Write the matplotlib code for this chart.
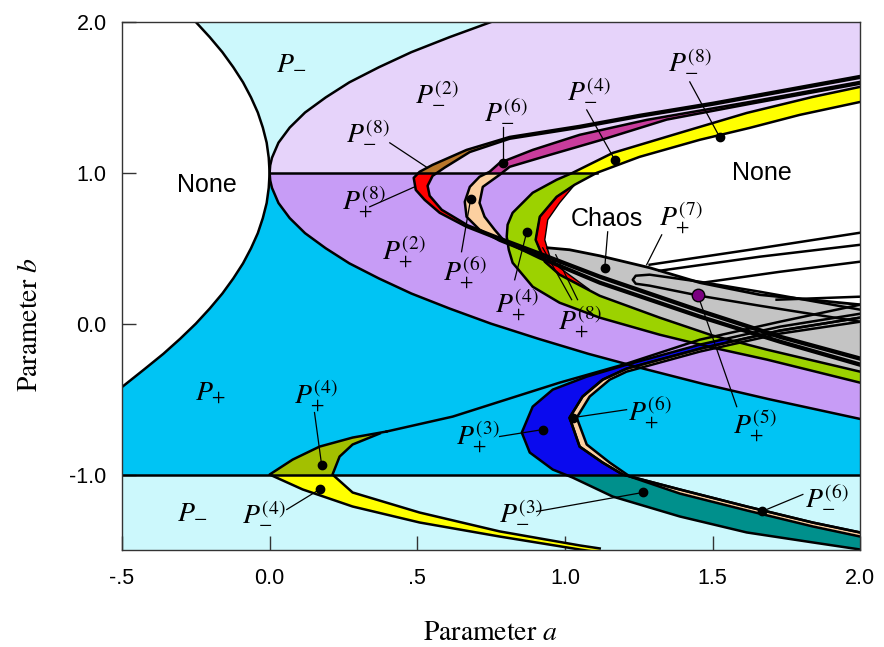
import matplotlib
matplotlib.use("Agg")
import matplotlib.pyplot as plt
from matplotlib.patches import Rectangle

plt.rcParams['mathtext.fontset'] = 'stix'
plt.rcParams['font.family'] = ['Liberation Sans', 'DejaVu Sans']

# ---- region boundaries (a = x, b = y) ----
# left "None" region boundary
none_b = [2.0, 1.9, 1.8, 1.7, 1.6, 1.5, 1.4, 1.3, 1.2, 1.1, 1.0, 0.9, 0.8, 0.7, 0.6, 0.5, 0.4, 0.3,
          0.2, 0.1, 0.0, -0.1, -0.2, -0.3, -0.42]
none_a = [-0.25, -0.203, -0.16, -0.123, -0.09, -0.063, -0.04, -0.023, -0.01, -0.003, 0.0, -0.003,
          -0.01, -0.023, -0.04, -0.063, -0.09, -0.123, -0.16, -0.203, -0.25, -0.303, -0.36, -0.423, -0.50]

# period-2 boundary (P -> P(2))
p2_b = [2.0, 1.9, 1.8, 1.7, 1.6, 1.5, 1.4, 1.3, 1.2, 1.1, 1.05, 1.0, 0.95, 0.9, 0.8, 0.7, 0.6, 0.5,
        0.4, 0.3, 0.2, 0.1, 0.0, -0.1, -0.2, -0.3, -0.4, -0.5, -0.64]
p2_a = [0.75, 0.61, 0.48, 0.37, 0.27, 0.19, 0.12, 0.068, 0.03, 0.008, 0.002, 0.0, 0.002, 0.008, 0.03,
        0.068, 0.12, 0.19, 0.27, 0.37, 0.48, 0.61, 0.75, 0.91, 1.08, 1.27, 1.47, 1.69, 2.02]

# small period-8 band (brown above b=1, red below)
b8_out_a = [2.0, 1.501, 1.253, 1.050, 0.813, 0.667, 0.552, 0.508, 0.488, 0.495, 0.525, 0.576, 0.667, 0.779, 0.915, 1.118, 1.457, 1.728, 2.0]
b8_out_b = [1.642, 1.464, 1.384, 1.311, 1.238, 1.152, 1.053, 1.007, 0.967, 0.887, 0.821, 0.735, 0.642, 0.556, 0.457, 0.305, 0.079, -0.093, -0.238]
b8_in_a = [2.0, 1.501, 1.253, 1.050, 0.813, 0.678, 0.593, 0.552, 0.535, 0.542, 0.583, 0.671, 0.779, 0.915, 1.118, 1.457, 1.728, 2.0]
b8_in_b = [1.630, 1.452, 1.372, 1.299, 1.226, 1.138, 1.035, 0.980, 0.914, 0.848, 0.755, 0.652, 0.570, 0.470, 0.318, 0.092, -0.080, -0.225]

# period-6 band (magenta above b=1, tan below)
b6_out_a = [2.0, 1.626, 1.277, 1.050, 0.891, 0.779, 0.745, 0.711, 0.678, 0.661, 0.667, 0.711, 0.779, 0.915, 1.118, 1.457, 1.728, 2.0]
b6_out_b = [1.603, 1.470, 1.351, 1.252, 1.152, 1.066, 1.007, 0.974, 0.907, 0.808, 0.709, 0.623, 0.550, 0.444, 0.278, 0.053, -0.113, -0.265]
b6_in_a = [2.0, 1.626, 1.345, 1.118, 0.949, 0.813, 0.779, 0.722, 0.711, 0.728, 0.762, 0.796, 0.915, 1.118, 1.457, 1.728, 2.0]
b6_in_b = [1.591, 1.457, 1.353, 1.215, 1.119, 1.040, 0.987, 0.907, 0.801, 0.709, 0.623, 0.545, 0.433, 0.266, 0.041, -0.125, -0.278]

# period-4 cascade band (yellow above b=1, green below)
b4_out_a = [2.0, 1.839, 1.616, 1.389, 1.162, 1.026, 0.972, 0.891, 0.823, 0.806, 0.803, 0.810, 0.823, 0.891, 0.982, 1.118, 1.321, 1.501, 1.684, 2.0]
b4_out_b = [1.570, 1.503, 1.397, 1.265, 1.132, 1.0, 0.954, 0.868, 0.735, 0.656, 0.576, 0.490, 0.404, 0.245, 0.139, 0.040, -0.073, -0.159, -0.238, -0.391]
b4_in_a = [2.0, 1.795, 1.626, 1.457, 1.253, 1.108, 1.033, 0.972, 0.915, 0.901, 0.932, 0.982, 1.118, 1.321, 1.501, 1.684, 2.0]
b4_in_b = [1.470, 1.384, 1.298, 1.219, 1.106, 1.0, 0.921, 0.841, 0.709, 0.556, 0.411, 0.325, 0.185, 0.040, -0.079, -0.172, -0.318]

# thin period-8 strip inside the cascade
r8_a = [1.033, 0.972, 0.915, 0.901, 0.932, 0.982, 1.084, 0.982, 0.949, 0.932, 0.942, 0.982, 1.033]
r8_b = [0.921, 0.841, 0.709, 0.556, 0.411, 0.325, 0.225, 0.371, 0.444, 0.556, 0.689, 0.801, 0.921]

# chaotic region
chaos_a = [0.942, 1.016, 1.118, 1.287, 1.457, 1.660, 2.0, 2.0, 1.684, 1.501, 1.321, 1.118, 0.982, 0.942]
chaos_b = [0.503, 0.490, 0.450, 0.371, 0.272, 0.192, 0.126, -0.318, -0.172, -0.079, 0.040, 0.185, 0.325, 0.411]

# period-7 window and window lines in the chaotic zone
p7_a = [2.0, 1.660, 1.457, 1.287, 1.240, 1.230, 1.240, 1.287, 1.457, 1.660, 2.0]
p7_b = [0.093, 0.212, 0.278, 0.325, 0.318, 0.291, 0.265, 0.252, 0.185, 0.119, 0.013]
win_lines = [
    ([1.287, 1.626, 2.0], [0.391, 0.490, 0.603]),
    ([1.321, 1.660, 2.0], [0.351, 0.444, 0.523]),
    ([1.467, 1.728, 2.0], [0.272, 0.344, 0.411]),
    ([1.717, 2.0], [0.159, 0.179]),
]

# period-3 band (blue above b=-1, teal below) and inner period-6 strip
b3_out_a = [2.0, 1.728, 1.457, 1.209, 1.074, 0.959, 0.891, 0.854, 0.881, 0.959, 1.026, 1.162, 1.389, 1.616, 1.839, 2.0]
b3_out_b = [0.066, -0.020, -0.139, -0.272, -0.351, -0.437, -0.550, -0.722, -0.854, -0.967, -1.020, -1.146, -1.278, -1.384, -1.450, -1.497]
b3_in_a = [2.0, 1.728, 1.457, 1.209, 1.128, 1.060, 1.016, 1.050, 1.128, 1.196, 1.389, 1.616, 1.839, 2.0]
b3_in_b = [0.040, -0.046, -0.166, -0.298, -0.371, -0.483, -0.623, -0.815, -0.921, -1.0, -1.099, -1.212, -1.318, -1.384]
b6l_a = [2.0, 1.728, 1.457, 1.209, 1.152, 1.084, 1.040, 1.074, 1.152, 1.220, 1.389, 1.616, 1.839, 2.0]
b6l_b = [0.013, -0.066, -0.185, -0.318, -0.371, -0.483, -0.623, -0.801, -0.921, -1.013, -1.126, -1.238, -1.344, -1.411]

# period-4 band near (0,-1) (olive above b=-1, yellow below)
q4_out_a = [0.396, 0.281, 0.169, 0.078, 0.0, 0.112, 0.281, 0.508, 0.779, 1.050, 1.118]
q4_out_b = [-0.715, -0.755, -0.815, -0.901, -1.0, -1.099, -1.212, -1.318, -1.411, -1.497, -1.517]
q4_in_a = [0.373, 0.281, 0.237, 0.213, 0.281, 0.508, 0.779, 1.050, 1.118]
q4_in_b = [-0.728, -0.801, -0.881, -1.0, -1.119, -1.252, -1.377, -1.470, -1.490]
q4_line_a = [0.396, 0.620, 0.779, 0.982, 1.209, 1.457, 1.728, 2.0]
q4_line_b = [-0.715, -0.616, -0.517, -0.391, -0.265, -0.106, 0.013, 0.126]

# labels: text, centre
labels = [
    (r'$P_{-}$', 0.075, 1.735), (r'$P_{-}^{(2)}$', 0.566, 1.530),
    (r'$P_{-}^{(8)}$', 0.332, 1.278), (r'$P_{+}^{(8)}$', 0.318, 0.808),
    (r'$P_{+}^{(2)}$', 0.454, 0.477), (r'$P_{+}^{(6)}$', 0.661, 0.338),
    (r'$P_{-}^{(6)}$', 0.799, 1.417), (r'$P_{-}^{(4)}$', 1.081, 1.556),
    (r'$P_{-}^{(8)}$', 1.423, 1.748), (r'$P_{+}^{(7)}$', 1.392, 0.702),
    (r'$P_{+}^{(4)}$', 0.837, 0.126), (r'$P_{+}^{(8)}$', 1.050, 0.013),
    (r'$P_{+}^{(5)}$', 1.643, -0.675), (r'$P_{+}^{(6)}$', 1.287, -0.589),
    (r'$P_{+}^{(3)}$', 0.705, -0.748), (r'$P_{-}^{(3)}$', 0.850, -1.245),
    (r'$P_{-}^{(6)}$', 1.887, -1.146), (r'$P_{+}$', -0.200, -0.457),
    (r'$P_{+}^{(4)}$', 0.156, -0.477), (r'$P_{-}$', -0.261, -1.245),
    (r'$P_{-}^{(4)}$', -0.020, -1.252),
]
words = [('None', -0.213, 0.921), ('None', 1.667, 1.0), ('Chaos', 1.142, 0.695)]

# leader lines (from label to orbit)
lead_x0 = [0.407, 0.339, 0.650, 0.789, 1.074, 1.423, 1.145, 1.328, 0.830, 1.023, 1.043, 1.582, 1.209, 0.779, 0.904, 1.806, 0.152, 0.058]
lead_y0 = [1.199, 0.775, 0.477, 1.305, 1.417, 1.603, 0.609, 0.589, 0.291, 0.159, 0.159, -0.550, -0.570, -0.748, -1.245, -1.132, -0.589, -1.232]
lead_x1 = [0.535, 0.491, 0.681, 0.789, 1.169, 1.524, 1.135, 1.277, 0.871, 0.925, 0.969, 1.450, 1.026, 0.925, 1.264, 1.667, 0.176, 0.169]
lead_y1 = [1.033, 0.907, 0.828, 1.066, 1.086, 1.238, 0.371, 0.391, 0.609, 0.503, 0.457, 0.192, -0.623, -0.702, -1.119, -1.245, -0.934, -1.099]
dot_x = [0.681, 0.789, 1.169, 1.524, 1.135, 0.871, 1.026, 0.925, 1.264, 1.667, 0.176, 0.169]
dot_y = [0.828, 1.066, 1.086, 1.238, 0.371, 0.609, -0.623, -0.702, -1.119, -1.245, -0.934, -1.099]

LIGHT_CYAN = '#ccf8fc'
SKY = '#00c4f4'
LAVENDER = '#e6d3fa'
PURPLE = '#c79cf6'

fig = plt.figure(figsize=(8.84, 6.47), dpi=100)
ax = fig.add_axes([0.138, 0.150, 0.835, 0.816])
ax.set_xlim(-0.5, 2.0)
ax.set_ylim(-1.5, 2.0)

ax.axhspan(1, 2, color=LIGHT_CYAN, lw=0, zorder=0)
ax.axhspan(-1, 1, color=SKY, lw=0, zorder=0)
ax.axhspan(-1.5, -1, color=LIGHT_CYAN, lw=0, zorder=0)

ax.fill(none_a + [-0.5], none_b + [2.0], color='white', lw=0, zorder=1)
ax.plot(none_a, none_b, color='k', lw=1.8, zorder=5)

i1 = p2_b.index(1.0)
ax.fill(p2_a[:i1 + 1] + [2.1, 2.1], p2_b[:i1 + 1] + [1.0, 2.0], color=LAVENDER, lw=0, zorder=1)
ax.fill(p2_a[i1:] + [2.1], p2_b[i1:] + [1.0], color=PURPLE, lw=0, zorder=1)
ax.plot(p2_a, p2_b, color='k', lw=1.8, zorder=5)


def band(oa, ob, ia, ib, col_hi, col_lo, split, z=2, lw=1.8):
    xs = list(oa) + list(ia)[::-1]
    ys = list(ob) + list(ib)[::-1]
    for col, y0, y1 in [(col_hi, split, 2.0), (col_lo, -1.5, split)]:
        p, = ax.fill(xs, ys, color=col, lw=0, zorder=z)
        p.set_clip_path(Rectangle((-0.5, y0), 2.5, y1 - y0, transform=ax.transData))
    ax.plot(oa, ob, color='k', lw=lw, zorder=5)
    ax.plot(ia, ib, color='k', lw=lw, zorder=5)


band(b8_out_a, b8_out_b, b8_in_a, b8_in_b, '#b8762a', '#ff0000', 1.0)
band(b6_out_a, b6_out_b, b6_in_a, b6_in_b, '#c83c9c', '#fcd0a0', 1.0)
band(b4_out_a, b4_out_b, b4_in_a, b4_in_b, '#ffff00', '#9cd200', 1.0)

# empty interior of the cascade
ax.fill(b4_in_a, b4_in_b, color='white', lw=0, zorder=3)
ax.fill(chaos_a, chaos_b, color='#c4c4c4', lw=0, zorder=3.5)
ax.plot(chaos_a[:7], chaos_b[:7], color='k', lw=2, zorder=5)
ax.fill(r8_a, r8_b, color='#ff0000', ec='k', lw=1, zorder=4)
ax.plot(p7_a, p7_b, color='k', lw=1.8, zorder=5)
for xs, ys in win_lines:
    ax.plot(xs, ys, color='k', lw=1.8, zorder=5)

band(b3_out_a, b3_out_b, b3_in_a, b3_in_b, '#0a0aee', '#00908c', -1.0)
band(b3_in_a, b3_in_b, b6l_a, b6l_b, '#fcd0a0', '#fcd0a0', -1.0, z=2.5)
band(q4_out_a, q4_out_b, q4_in_a, q4_in_b, '#a3c000', '#ffff00', -1.0)
ax.plot(q4_line_a, q4_line_b, color='k', lw=1.8, zorder=5)

# b = 1 and b = -1 lines
ax.plot([0.0, 1.108], [1.0, 1.0], color='k', lw=1.8, zorder=6)
ax.plot([-0.5, 2.0], [-1.0, -1.0], color='k', lw=1.8, zorder=6)

for x0, y0, x1, y1 in zip(lead_x0, lead_y0, lead_x1, lead_y1):
    ax.plot([x0, x1], [y0, y1], color='k', lw=0.9, zorder=6)
ax.plot(dot_x, dot_y, 'o', color='k', ms=6, zorder=7)
ax.plot([1.450], [0.192], 'o', color='#7a0080', mec='k', ms=9, zorder=7)

for s, x, y in labels:
    ax.text(x, y, s, fontsize=20, ha='center', va='center', zorder=8)
for s, x, y in words:
    ax.text(x, y, s, fontsize=18, ha='center', va='center', zorder=8)

ax.set_xticks([-0.5, 0.0, 0.5, 1.0, 1.5, 2.0])
ax.set_xticklabels(['-.5', '0.0', '.5', '1.0', '1.5', '2.0'])
ax.set_yticks([-1.0, 0.0, 1.0, 2.0])
ax.set_yticklabels(['-1.0', '0.0', '1.0', '2.0'])
ax.tick_params(direction='in', length=10, width=1, color='#333333', labelsize=15.5)
ax.tick_params(axis='x', pad=13)
ax.tick_params(axis='y', pad=11)
for sp in ax.spines.values():
    sp.set_color('#333333')
    sp.set_linewidth(1)
    sp.set_zorder(9)

fig.text(490 / 884, 1 - 633 / 647, r'$\mathrm{Parameter}\ a$', fontsize=20, ha='center', va='center')
fig.text(30 / 884, 1 - 325 / 647, r'$\mathrm{Parameter}\ b$', fontsize=20, ha='center', va='center', rotation=90)

fig.savefig('out.png', dpi=100)
